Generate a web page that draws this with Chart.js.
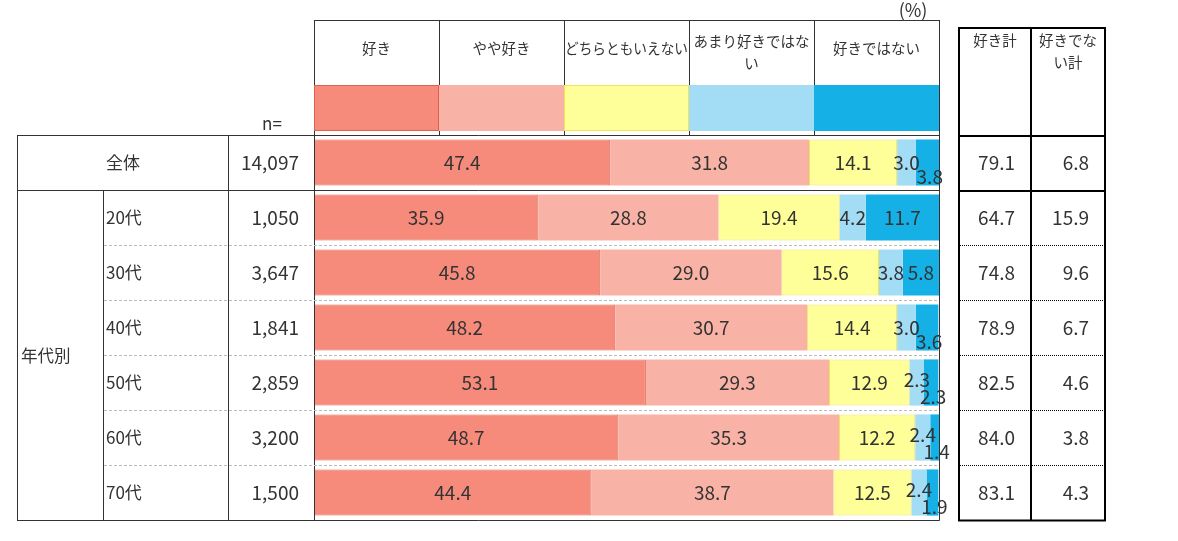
<!DOCTYPE html>
<html>
<head>
<meta charset="utf-8">
<script src="https://cdn.jsdelivr.net/npm/chart.js@4"></script>
<style>
  body { margin: 0; background: #fff; }
  #wrap { position: relative; width: 1178px; height: 541px; }
</style>
</head>
<body>
<div id="wrap"><canvas id="barchart" width="1178" height="541"></canvas></div>
<script>
var rows = ["全体", "20代", "30代", "40代", "50代", "60代", "70代"];
var nValues = ["14,097", "1,050", "3,647", "1,841", "2,859", "3,200", "1,500"];
var groupLabel = "年代別";
var answers = ["好き", "やや好き", "どちらともいえない", "あまり好きではない", "好きではない"];
var answerLines = [["好き"], ["やや好き"], ["どちらともいえない"], ["あまり好きではな", "い"], ["好きではない"]];
var suki = [47.4, 35.9, 45.8, 48.2, 53.1, 48.7, 44.4];
var yayaSuki = [31.8, 28.8, 29.0, 30.7, 29.3, 35.3, 38.7];
var dochira = [14.1, 19.4, 15.6, 14.4, 12.9, 12.2, 12.5];
var amari = [3.0, 4.2, 3.8, 3.0, 2.3, 2.4, 2.4];
var sukiDewanai = [3.8, 11.7, 5.8, 3.6, 2.3, 1.4, 1.9];
var totalHeads = [["好き計"], ["好きでな", "い計"]];
var sukiTotal = ["79.1", "64.7", "74.8", "78.9", "82.5", "84.0", "83.1"];
var notSukiTotal = ["6.8", "15.9", "9.6", "6.7", "4.6", "3.8", "4.3"];

var colors = ["#F78B7B", "#F9B3A6", "#FFFF99", "#A3DDF5", "#15B1E6"];
var borders = ["#E2604F", "#F9B3A6", "#F0E25A", "#A3DDF5", "#15B1E6"];
var FONT = '"Noto Sans CJK JP", "Noto Sans", sans-serif';
var INK = "#333333";

function hline(ctx, x1, x2, y) {
  ctx.beginPath();
  ctx.moveTo(x1, y);
  ctx.lineTo(x2, y);
  ctx.stroke();
}
function vline(ctx, x, y1, y2) {
  ctx.beginPath();
  ctx.moveTo(x, y1);
  ctx.lineTo(x, y2);
  ctx.stroke();
}

// table, header and labels round the bars
var tablePlugin = {
  id: "tablePlugin",
  afterDatasetsDraw: function (chart) {
    var ctx = chart.ctx;
    var xs = chart.scales.x;
    var ys = chart.scales.y;
    var area = chart.chartArea;
    var band = (area.bottom - area.top) / rows.length;
    var rowTop = function (i) { return Math.round(ys.getPixelForValue(i) - band / 2) + 0.5; };
    var rowMid = function (i) { return ys.getPixelForValue(i); };
    var L = area.left + 0.5, R = area.right + 0.5;
    var bottom = Math.round(area.bottom) + 0.5;

    ctx.save();
    // header cells
    ctx.strokeStyle = INK;
    ctx.lineWidth = 1;
    hline(ctx, L, R, 20.5);
    for (var k = 0; k <= answers.length; k++) {
      var hx = Math.round(xs.getPixelForValue(k * 20)) + 0.5;
      vline(ctx, hx, 20, rowTop(0));
    }
    for (var k = 0; k < answers.length; k++) {
      var x1 = xs.getPixelForValue(k * 20), x2 = xs.getPixelForValue((k + 1) * 20);
      ctx.fillStyle = colors[k];
      ctx.fillRect(x1, 85, x2 - x1, 46);
      ctx.strokeStyle = borders[k];
      ctx.strokeRect(x1 + 0.5, 85.5, x2 - x1 - 1, 45);
      ctx.fillStyle = INK;
      ctx.font = "14.5px " + FONT;
      ctx.textAlign = "center";
      ctx.textBaseline = "middle";
      var lines = answerLines[k];
      var y0 = lines.length > 1 ? 41 : 48;
      for (var j = 0; j < lines.length; j++) {
        ctx.fillText(lines[j], (x1 + x2) / 2, y0 + j * 22, x2 - x1 - 2);
      }
    }
    ctx.font = "18px " + FONT;
    ctx.textAlign = "center";
    ctx.fillText("(%)", 913, 10);
    ctx.font = "17px " + FONT;
    ctx.fillText("n=", 272, 124);

    // left table lines
    ctx.strokeStyle = INK;
    ctx.lineWidth = 1;
    hline(ctx, 17, R, rowTop(0));
    hline(ctx, 17, R, rowTop(1));
    hline(ctx, 17, R, bottom);
    vline(ctx, 17.5, rowTop(0), bottom);
    vline(ctx, 103.5, rowTop(1), bottom);
    vline(ctx, 228.5, rowTop(0), bottom);
    vline(ctx, L, rowTop(0), bottom);
    vline(ctx, R, 20, bottom);
    ctx.strokeStyle = "#BBBBBB";
    ctx.setLineDash([3, 2]);
    for (var i = 2; i < rows.length; i++) {
      hline(ctx, 104, R - 1, rowTop(i));
    }
    ctx.setLineDash([]);

    // left table texts
    ctx.fillStyle = INK;
    ctx.font = "17px " + FONT;
    ctx.textBaseline = "middle";
    ctx.textAlign = "center";
    ctx.fillText(rows[0], 123, rowMid(0));
    ctx.textAlign = "left";
    for (var i = 1; i < rows.length; i++) {
      ctx.fillText(rows[i], 106, rowMid(i));
    }
    ctx.font = "16.5px " + FONT;
    ctx.fillText(groupLabel, 21, (rowTop(1) + bottom) / 2);
    ctx.font = "19px " + FONT;
    ctx.textAlign = "right";
    for (var i = 0; i < rows.length; i++) {
      ctx.fillText(nValues[i], 299, rowMid(i));
    }

    // value labels on the segments
    ctx.textAlign = "center";
    ctx.font = "19px " + FONT;
    chart.data.datasets.forEach(function (ds, d) {
      var meta = chart.getDatasetMeta(d);
      meta.data.forEach(function (bar, i) {
        var v = ds.data[i];
        var cx = (bar.x + bar.base) / 2;
        var cy = bar.y;
        if (d == 4 && v < 5) {
          cy += 14;
          cx += 2;
        } else if (d == 3 && v < 2.5) {
          cy -= 3;
        }
        ctx.fillStyle = INK;
        ctx.fillText(v.toFixed(1), cx, cy);
      });
    });

    // right table
    ctx.strokeStyle = "#000";
    ctx.lineWidth = 2;
    ctx.strokeRect(959, 28, 146, bottom - 28);
    vline(ctx, 1031, 28, bottom);
    hline(ctx, 959, 1105, Math.round(rowTop(0)));
    hline(ctx, 959, 1105, Math.round(rowTop(1)));
    ctx.lineWidth = 1;
    ctx.setLineDash([1, 1]);
    for (var i = 2; i < rows.length; i++) {
      hline(ctx, 960, 1104, rowTop(i));
    }
    ctx.setLineDash([]);
    ctx.fillStyle = INK;
    ctx.font = "14.5px " + FONT;
    ctx.textAlign = "center";
    for (var c = 0; c < totalHeads.length; c++) {
      for (var j = 0; j < totalHeads[c].length; j++) {
        ctx.fillText(totalHeads[c][j], c == 0 ? 995 : 1068, 40 + j * 22);
      }
    }
    ctx.font = "19px " + FONT;
    ctx.textAlign = "right";
    for (var i = 0; i < rows.length; i++) {
      ctx.fillText(sukiTotal[i], 1015, rowMid(i));
      ctx.fillText(notSukiTotal[i], 1089, rowMid(i));
    }
    ctx.restore();
  }
};

var series = [suki, yayaSuki, dochira, amari, sukiDewanai];
var datasets = [];
for (var k = 0; k < answers.length; k++) {
  datasets.push({
    label: answers[k],
    data: series[k],
    backgroundColor: colors[k],
    borderColor: borders[k],
    borderWidth: k == 0 || k == 2 ? 1 : 0,
    borderSkipped: false,
    barPercentage: 0.84,
    categoryPercentage: 1
  });
}

var myChart = new Chart(document.getElementById("barchart"), {
  type: "bar",
  data: { labels: rows, datasets: datasets },
  options: {
    indexAxis: "y",
    responsive: false,
    animation: false,
    devicePixelRatio: 1,
    layout: { padding: { left: 314, right: 239, top: 135, bottom: 21 } },
    scales: {
      x: { stacked: true, min: 0, max: 100, display: false },
      y: { stacked: true, display: false }
    },
    plugins: {
      legend: { display: false },
      tooltip: { enabled: false }
    }
  },
  plugins: [tablePlugin]
});
</script>
</body>
</html>
